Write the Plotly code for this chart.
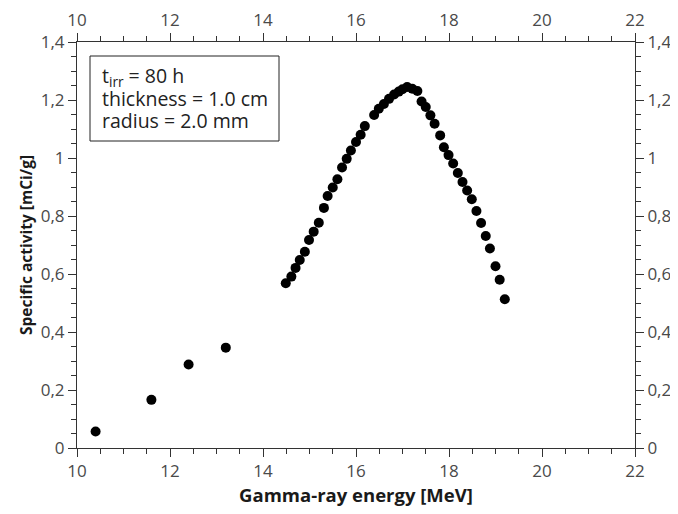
import plotly.graph_objects as go

energy_low = [10.4, 11.6, 12.4, 13.2]
activity_low = [0.057, 0.166, 0.288, 0.346]

energy_peak = [14.49, 14.61, 14.70, 14.79, 14.90, 14.99, 15.09, 15.20, 15.31, 15.39,
               15.50, 15.60, 15.70, 15.80, 15.89, 16.00, 16.10, 16.19, 16.39, 16.49,
               16.60, 16.71, 16.82, 16.92, 17.00, 17.10, 17.21, 17.32, 17.41, 17.50,
               17.60, 17.69, 17.81, 17.89, 17.99, 18.09, 18.19, 18.29, 18.39, 18.49,
               18.59, 18.69, 18.79, 18.88, 19.00, 19.09, 19.20]
activity_peak = [0.568, 0.591, 0.621, 0.648, 0.677, 0.717, 0.746, 0.777, 0.828, 0.869,
                 0.898, 0.927, 0.967, 0.997, 1.026, 1.055, 1.080, 1.110, 1.148, 1.170,
                 1.186, 1.204, 1.219, 1.229, 1.237, 1.245, 1.239, 1.231, 1.195, 1.176,
                 1.147, 1.118, 1.078, 1.037, 1.010, 0.981, 0.948, 0.917, 0.888, 0.858,
                 0.817, 0.776, 0.731, 0.688, 0.627, 0.580, 0.513]

x_range = [10, 22]
y_range = [0, 1.4]
box_lines = ["t<sub>irr</sub> = 80 h", "thickness = 1.0 cm", "radius = 2.0 mm"]

font_family = "Open Sans, Noto Sans, DejaVu Sans, sans-serif"
axis_color = "#333333"
tick_font = dict(family=font_family, size=17, color="#4a4a4a")

# The page body has an 8px default margin, so the figure is drawn 8px in from
# the window's top-left corner; size the figure so it fits in the 678x514 view.
OFF = 8
W, H = 678 - OFF, 514 - OFF
L, R, T, B = 69, 43, 34, 66
PW, PH = W - L - R, H - T - B


def px_x(p):
    """window pixel x -> paper coordinate"""
    return (p - OFF - L) / PW


def px_y(p):
    """window pixel y -> paper coordinate"""
    return (H - B - (p - OFF)) / PH


fig = go.Figure()
fig.add_trace(go.Scatter(x=energy_low + energy_peak, y=activity_low + activity_peak,
                         mode="markers", marker=dict(color="black", size=10),
                         showlegend=False, hoverinfo="x+y"))
# invisible trace so the mirrored (top/right) axes are drawn
fig.add_trace(go.Scatter(x=[x_range[0]], y=[y_range[0]], xaxis="x2", yaxis="y2",
                         mode="markers", marker=dict(opacity=0), showlegend=False,
                         hoverinfo="skip"))

common_x = dict(range=x_range, dtick=2, tick0=10, ticks="outside", ticklen=8, tickwidth=1,
                tickcolor=axis_color, showline=True, linecolor=axis_color, linewidth=1,
                showgrid=False, zeroline=False, tickfont=tick_font, automargin=False,
                minor=dict(dtick=0.5, ticklen=5, tickcolor=axis_color, ticks="outside"))
common_y = dict(range=y_range, dtick=0.2, tick0=0, ticks="outside", ticklen=8, tickwidth=1,
                tickcolor=axis_color, showline=True, linecolor=axis_color, linewidth=1,
                showgrid=False, zeroline=False, tickfont=tick_font, automargin=False,
                minor=dict(dtick=0.05, ticklen=5, tickcolor=axis_color, ticks="outside"))

fig.update_layout(
    width=W, height=H,
    margin=dict(l=L, r=R, t=T, b=B),
    paper_bgcolor="white", plot_bgcolor="white",
    separators=", ",
    font=dict(family=font_family, color="#222222"),
    xaxis=dict(**common_x, side="bottom",
               title=dict(text="<b>Gamma-ray energy [MeV]</b>", standoff=7,
                          font=dict(family=font_family, size=18.5, color="#1a1a1a"))),
    yaxis=dict(**common_y, side="left",
               title=dict(text="<b>Specific activity [mCi/g]</b>", standoff=4,
                          font=dict(family=font_family, size=15.5, color="#1a1a1a"))),
    xaxis2=dict(**common_x, side="top", overlaying="x", anchor="y"),
    yaxis2=dict(**common_y, side="right", overlaying="y", anchor="x"),
)

fig.add_shape(type="rect", xref="paper", yref="paper",
              x0=px_x(90), x1=px_x(279), y0=px_y(141), y1=px_y(56),
              line=dict(color="#222222", width=1), fillcolor="white", layer="above")
for line_text, ypix in zip(box_lines, [76.7, 98.3, 120.0]):
    fig.add_annotation(xref="paper", yref="paper", x=px_x(100), y=px_y(ypix),
                       xanchor="left", yanchor="middle", align="left", showarrow=False,
                       text=line_text,
                       font=dict(family=font_family, size=19.5, color="#222222"))

fig.write_html("out.html")
